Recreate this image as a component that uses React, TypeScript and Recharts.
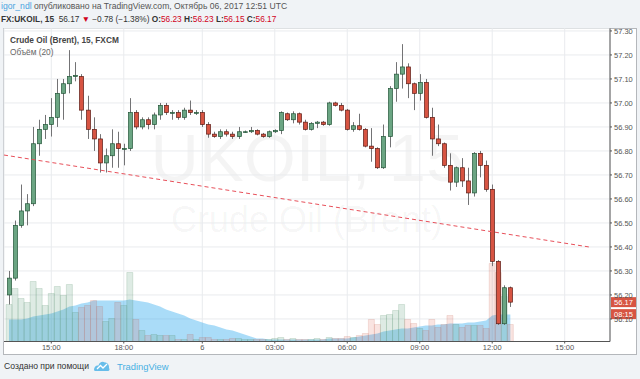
import React from 'react'
import {
  ComposedChart,
  Bar,
  Area,
  Cell,
  XAxis,
  YAxis,
  CartesianGrid,
  ReferenceLine
} from 'recharts'

// 15-minute bars, FX:UKOIL, Oct 5-6 2017
const opens = [
  56.2, 56.27, 56.49, 56.55, 56.58, 56.83, 56.89, 56.91, 56.94, 57.04,
  57.08, 57.11, 57.11, 56.97, 56.89, 56.85, 56.75, 56.78, 56.83, 56.81,
  56.81, 56.96, 56.9, 56.93, 56.91, 56.95, 56.99, 56.96, 56.96, 56.94,
  56.97, 56.96, 56.96, 56.91, 56.87, 56.86, 56.88, 56.87, 56.86, 56.88,
  56.88, 56.885, 56.87, 56.86, 56.88, 56.885, 56.955, 56.93, 56.955, 56.92,
  56.89, 56.915, 56.92, 56.91, 57.0, 56.99, 56.97, 56.89, 56.905, 56.89,
  56.82, 56.81, 56.73, 56.86, 57.06, 57.12, 57.15, 57.08, 57.04, 57.085,
  56.94, 56.85, 56.83, 56.74, 56.67, 56.73, 56.675, 56.625, 56.79, 56.74,
  56.64, 56.34, 56.08, 56.23
]
const highs = [
  56.3, 56.51, 56.66, 56.62, 56.9, 56.93, 56.95, 57.02, 57.1, 57.1,
  57.22, 57.17, 57.12, 57.03, 56.94, 56.87, 56.81, 56.89, 56.88, 56.83,
  57.02, 56.97, 56.94, 56.94, 56.96, 57.0, 57.0, 56.97, 56.97, 56.98,
  57.01, 56.97, 56.97, 56.92, 56.88, 56.89, 56.89, 56.88, 56.9, 56.885,
  56.9, 56.89, 56.875, 56.885, 56.89, 56.965, 56.96, 56.965, 56.96, 56.93,
  56.92, 56.925, 56.925, 57.005, 57.005, 57.0, 56.975, 56.92, 56.955, 56.895,
  56.895, 56.815, 56.91, 57.07, 57.17, 57.245, 57.165, 57.085, 57.12, 57.1,
  56.98, 56.91, 56.835, 56.79, 56.735, 56.77, 56.73, 56.795, 56.8, 56.76,
  56.66, 56.345, 56.24, 56.235
]
const lows = [
  56.16, 56.26, 56.48, 56.49, 56.57, 56.78, 56.85, 56.86, 56.9, 56.93,
  57.04, 57.09, 56.93, 56.85, 56.8, 56.71, 56.71, 56.73, 56.73, 56.74,
  56.8, 56.89, 56.89, 56.89, 56.89, 56.93, 56.95, 56.93, 56.93, 56.93,
  56.95, 56.95, 56.9, 56.855, 56.855, 56.85, 56.86, 56.85, 56.85, 56.875,
  56.875, 56.865, 56.855, 56.855, 56.875, 56.87, 56.925, 56.915, 56.91, 56.885,
  56.885, 56.895, 56.905, 56.905, 56.985, 56.965, 56.885, 56.88, 56.885, 56.815,
  56.755, 56.725, 56.725, 56.815, 57.005, 57.06, 57.02, 56.97, 57.01, 56.935,
  56.78, 56.82, 56.73, 56.635, 56.65, 56.65, 56.575, 56.61, 56.69, 56.63,
  56.32, 56.075, 56.075, 56.15
]
const closes = [
  56.27, 56.49, 56.55, 56.58, 56.83, 56.89, 56.91, 56.94, 57.04, 57.08,
  57.11, 57.115, 56.97, 56.89, 56.85, 56.75, 56.78, 56.83, 56.81, 56.81,
  56.96, 56.9, 56.93, 56.91, 56.95, 56.99, 56.96, 56.96, 56.94, 56.97,
  56.96, 56.96, 56.91, 56.87, 56.86, 56.88, 56.87, 56.86, 56.88, 56.88,
  56.885, 56.87, 56.86, 56.88, 56.885, 56.96, 56.93, 56.955, 56.92, 56.89,
  56.915, 56.92, 56.91, 57.0, 56.99, 56.97, 56.89, 56.905, 56.89, 56.82,
  56.81, 56.73, 56.86, 57.06, 57.12, 57.15, 57.08, 57.04, 57.085, 56.94,
  56.85, 56.83, 56.74, 56.67, 56.73, 56.675, 56.625, 56.79, 56.74, 56.64,
  56.34, 56.08, 56.23, 56.17
]
const volumes = [
  370, 530, 430, 390, 600, 530, 360, 480, 550, 460,
  570, 290, 340, 360, 410, 350, 200, 230, 390, 360,
  690, 220, 110, 60, 70, 60, 60, 60, 20, 20,
  70, 20, 40, 40, 20, 20, 20, 30, 30, 20,
  20, 20, 20, 20, 30, 40, 20, 30, 20, 20,
  20, 30, 20, 40, 30, 30, 50, 40, 60, 80,
  220, 170, 260, 270, 310, 370, 220, 180, 130, 110,
  220, 140, 170, 260, 170, 140, 160, 160, 160, 130,
  780, 690, 450, 170
]
// volume MA(20), read from the shaded area
const volMa = [
  220, 220, 220, 230, 250, 260, 270, 280, 300, 320,
  350, 360, 380, 390, 410, 410, 410, 410, 410, 410,
  420, 410, 400, 390, 370, 350, 320, 300, 280, 260,
  230, 210, 190, 170, 160, 140, 120, 110, 90, 70,
  50, 30, 30, 20, 20, 20, 20, 20, 20, 20,
  20, 20, 20, 30, 30, 30, 30, 40, 50, 60,
  70, 80, 100, 110, 120, 130, 130, 140, 150, 160,
  160, 170, 170, 180, 180, 180, 190, 190, 200, 210,
  260, 270, 270, 270
]

const xTicks = [7, 19, 32, 44, 56, 68, 80, 92]
const xTickLabels = ['15:00', '18:00', '6', '03:00', '06:00', '09:00', '12:00', '15:00']
const yTicks = [56.1, 56.2, 56.3, 56.4, 56.5, 56.6, 56.7, 56.8, 56.9, 57.0, 57.1, 57.2, 57.3]
const trendStart = { x: -0.83, y: 56.783 }
const trendEnd = { x: 96, y: 56.4 }
const lastClose = 56.17
const barCountdown = '08:15'

const UP = '#6ba583'
const DOWN = '#d75442'
const UP_BORDER = '#225437'
const DOWN_BORDER = '#5b1a13'
const WICK = '#737375'
const FONT = '"Liberation Sans", Arial, sans-serif'

const rows = opens.map((o, i) => ({
  i,
  o,
  h: highs[i],
  l: lows[i],
  c: closes[i],
  v: volumes[i],
  ma: volMa[i]
}))

const Candle = (props: any) => {
  const { x, y, width, height } = props
  const p = props.payload ?? props
  if (p == null || x == null) return null
  const top0 = Math.min(y, y + height)
  const hh = Math.abs(height)
  const span = p.h - p.l || 1
  const py = (v: number) => top0 + ((p.h - v) / span) * hh
  const up = p.c >= p.o
  const cx = Math.round(x + width / 2) + 0.5
  const bTop = py(Math.max(p.o, p.c))
  const bBot = py(Math.min(p.o, p.c))
  return (
    <g>
      <line x1={cx} x2={cx} y1={top0} y2={top0 + hh} stroke={WICK} strokeWidth={1} />
      <rect
        x={cx - 2}
        y={bTop}
        width={4}
        height={Math.max(bBot - bTop, 0.8)}
        fill={up ? UP : DOWN}
        stroke={up ? UP_BORDER : DOWN_BORDER}
        strokeWidth={0.7}
      />
    </g>
  )
}

const PriceTag = (props: any) => {
  const vb = props.viewBox
  if (!vb) return null
  const x = vb.x + vb.width + 1
  const y = vb.y
  return (
    <g fontFamily={FONT} fontSize={7.5}>
      <rect x={x} y={y - 5} width={25} height={10} fill={DOWN} />
      <text x={x + 12.5} y={y} dy="0.35em" textAnchor="middle" fill="#fff">
        {lastClose.toFixed(2)}
      </text>
      <rect x={x} y={y + 7} width={25} height={10} fill={DOWN} />
      <text x={x + 12.5} y={y + 12} dy="0.35em" textAnchor="middle" fill="#fff">
        {barCountdown}
      </text>
    </g>
  )
}

export default function App() {
  return (
    <div
      style={{
        position: 'absolute',
        left: 0,
        top: 0,
        width: 640,
        height: 379,
        background: '#f0f3f6',
        fontFamily: FONT,
        overflow: 'hidden'
      }}
    >
      <div style={{ position: 'absolute', left: 1, top: 1, fontSize: 8.6, color: '#555', whiteSpace: 'nowrap' }}>
        <span style={{ color: '#4aa3df' }}>igor_ndl</span> опубликовано на TradingView.com, Октябрь 06, 2017 12:51 UTC
      </div>
      <div style={{ position: 'absolute', left: 1, top: 14, fontSize: 8.3, color: '#333', whiteSpace: 'nowrap' }}>
        <b>FX:UKOIL, 15</b>&nbsp; 56.17 <span style={{ color: '#d0021b' }}>▼</span> −0.78 (−1.38%){' '}
        <b>O:</b><span style={{ color: '#d0021b' }}>56.23</span>{' '}
        <b>H:</b><span style={{ color: '#d0021b' }}>56.23</span>{' '}
        <b>L:</b><span style={{ color: '#d0021b' }}>56.15</span>{' '}
        <b>C:</b><span style={{ color: '#d0021b' }}>56.17</span>
      </div>

      <div
        style={{
          position: 'absolute',
          left: 3,
          top: 28,
          width: 634,
          height: 327,
          background: '#fff',
          border: '1px solid #b4b7bb',
          boxSizing: 'border-box'
        }}
      />
      <div
        style={{
          position: 'absolute',
          left: 4,
          width: 606,
          top: 118,
          textAlign: 'center',
          fontSize: 67,
          lineHeight: '80px',
          color: 'rgba(0,0,0,0.045)'
        }}
      >
        UKOIL, 15
      </div>
      <div
        style={{
          position: 'absolute',
          left: 4,
          width: 606,
          top: 198,
          textAlign: 'center',
          fontSize: 36,
          lineHeight: '44px',
          color: 'rgba(0,0,0,0.045)'
        }}
      >
        Crude Oil (Brent)
      </div>

      <div style={{ position: 'absolute', left: 0, top: 28 }}>
        <ComposedChart
          width={640}
          height={327}
          data={rows}
          margin={{ top: 0.3, right: 0, bottom: 0, left: 4 }}
        >
          <CartesianGrid xAxisId="x" yAxisId="price" stroke="#e9ebee" strokeWidth={1} />
          <XAxis
            xAxisId="x"
            dataKey="i"
            type="number"
            domain={[-0.83, 99.5]}
            allowDataOverflow
            ticks={xTicks}
            interval={0}
            tickFormatter={(v: number) => xTickLabels[xTicks.indexOf(v)] ?? ''}
            height={13.5}
            tickSize={2}
            tickMargin={1}
            stroke="#555"
            tick={{ fill: '#555', fontSize: 7.5, fontFamily: FONT }}
          />
          <XAxis xAxisId="xv" dataKey="i" type="number" domain={[-0.83, 99.5]} allowDataOverflow hide />
          <YAxis
            yAxisId="price"
            orientation="right"
            domain={[56.006, 57.311]}
            allowDataOverflow
            ticks={yTicks}
            interval={0}
            tickFormatter={(v: number) => v.toFixed(2)}
            width={30}
            tickSize={2}
            tickMargin={2}
            stroke="#555"
            tick={{ fill: '#555', fontSize: 7.5, fontFamily: FONT }}
          />
          <YAxis yAxisId="vol" domain={[0, 3132]} allowDataOverflow hide />

          <Bar xAxisId="xv" yAxisId="vol" dataKey="v" barSize={6} isAnimationActive={false}>
            {rows.map((r) => (
              <Cell
                key={r.i}
                fill={r.c >= r.o ? 'rgba(107,165,131,0.22)' : 'rgba(215,84,66,0.16)'}
                stroke={r.c >= r.o ? 'rgba(80,140,100,0.3)' : 'rgba(190,80,60,0.25)'}
                strokeWidth={0.6}
              />
            ))}
          </Bar>
          <Area
            xAxisId="xv"
            yAxisId="vol"
            dataKey="ma"
            type="linear"
            stroke="none"
            fill="#2aa8ee"
            fillOpacity={0.4}
            isAnimationActive={false}
          />
          <Bar
            xAxisId="x"
            yAxisId="price"
            dataKey={(d: any) => [d.l, d.h]}
            barSize={4}
            shape={<Candle />}
            isAnimationActive={false}
          />
          <ReferenceLine
            xAxisId="x"
            yAxisId="price"
            segment={[trendStart, trendEnd]}
            stroke="#e8505a"
            strokeWidth={1}
            strokeDasharray="4 3"
            ifOverflow="visible"
          />
          <ReferenceLine
            xAxisId="x"
            yAxisId="price"
            y={lastClose}
            stroke="none"
            strokeOpacity={0}
            label={<PriceTag />}
          />
        </ComposedChart>
      </div>

      <div style={{ position: 'absolute', left: 10, top: 35, fontSize: 8.3, color: '#444', fontWeight: 600, whiteSpace: 'nowrap' }}>
        Crude Oil (Brent), 15, FXCM
      </div>
      <div style={{ position: 'absolute', left: 10, top: 47, fontSize: 8.3, color: '#666', whiteSpace: 'nowrap' }}>
        Объём (20)
      </div>

      <div style={{ position: 'absolute', left: 4, top: 361, fontSize: 8.6, color: '#333', whiteSpace: 'nowrap' }}>
        Создано при помощи
      </div>
      <svg style={{ position: 'absolute', left: 93, top: 359 }} width={18} height={13} viewBox="0 0 18 13">
        <path d="M1 11 C1 8 3 6 5.5 6.5 C6.5 3 9.5 2 12 3.5 C14.5 3.5 16.5 6 16 9 C17 10 16.5 12 15 12 L3 12 C2 12 1 11.6 1 11 Z" fill="#67bdea" />
        <path d="M4 10 L7.5 6.5 L10 9 L14 5" stroke="#fff" strokeWidth={1.3} fill="none" />
      </svg>
      <div style={{ position: 'absolute', left: 117, top: 360.5, fontSize: 9.4, color: '#48b0e3', whiteSpace: 'nowrap' }}>
        TradingView
      </div>
    </div>
  )
}
